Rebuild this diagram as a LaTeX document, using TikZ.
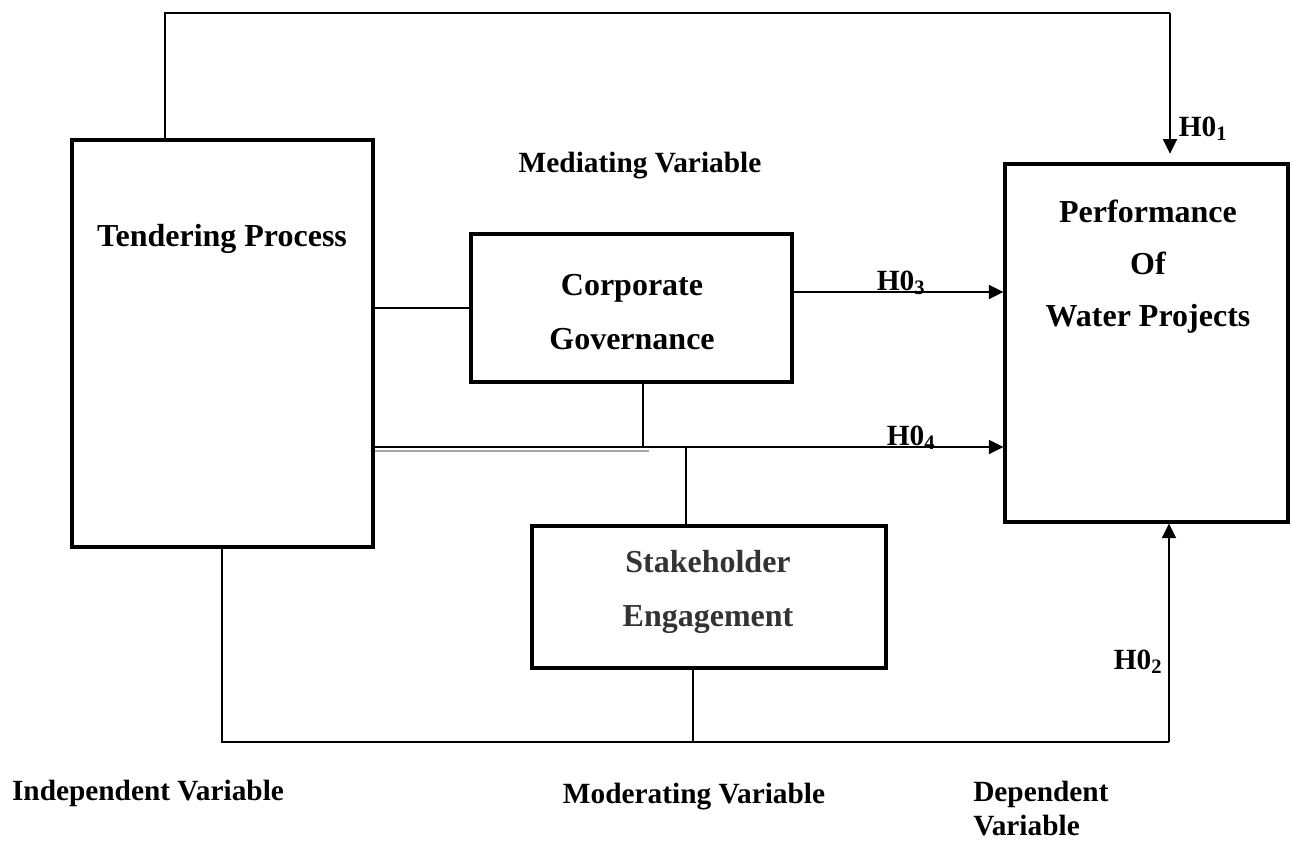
\documentclass[tikz,border=0pt]{standalone}
\usepackage{fontspec}
\setmainfont{Liberation Serif}
\usetikzlibrary{arrows.meta}

\begin{document}
\begin{tikzpicture}[x=0.75pt, y=-0.75pt, >={Triangle[length=11pt,width=10.5pt]},
    box/.style={draw, line width=2.3pt, inner sep=0pt},
    boxtext/.style={font=\fontsize{24}{41}\selectfont\bfseries, align=center, inner sep=0pt},
    lab/.style={font=\fontsize{22}{25}\selectfont\bfseries, inner sep=0pt},
    conn/.style={line width=1.1pt},
    arr/.style={line width=1.4pt, ->}]

    \useasboundingbox (0,0) rectangle (1293,840);

    % Boxes

    \node[box, minimum width=225.75pt, minimum height=305.25pt] (tender) at (222.5,343.5) {}; %
    \node[box, minimum width=240.75pt, minimum height=111pt]    (corp)   at (631.5,308)   {}; %
    \node[box, minimum width=265.5pt,  minimum height=106.5pt]  (stake)  at (709,597)     {}; %
    \node[box, minimum width=212.25pt, minimum height=268.5pt]  (perf)   at (1146.5,343)  {}; %

    % Box texts
    \node[boxtext] (tendertxt) at (222,239) {Tendering Process}; %
    \node[boxtext] (corptxt)   at (632,312) {Corporate\\Governance}; %
    \node[boxtext, text=black!80] (staketxt) at (708,592) {Stakeholder\\Engagement}; %
    \node[boxtext, font=\fontsize{24}{39}\selectfont\bfseries] (perftxt) at (1148,267) {Performance\\Of\\Water Projects}; %

    % Bends
    \coordinate (tl) at (165,13);
    \coordinate (tr) at (1170,13);
    \coordinate (bl) at (222,742);
    \coordinate (br) at (1169,742);
    \coordinate (sb) at (693,742);
    \coordinate (jn) at (643,447);
    \coordinate (jg) at (649,451);
    \coordinate (sj) at (686,447);

    % Connectors
    \draw[conn] (tender.north -| tl) -- (tl) -- (tr);
    \draw[arr, shorten >=6.5pt] (tr) -- (perf.north -| tr);
    \draw[conn] (corp.west -| tender.east) -- (corp.west);
    \draw[arr] ([yshift=12pt]corp.east) -- ([yshift=12pt]corp.east -| perf.west);
    \draw[conn] (corp.south -| jn) -- (jn);
    \draw[arr] (jn) -- (perf.west |- jn);
    \draw[conn] (tender.east |- jn) -- (jn);
    \draw[black!35, line width=0.9pt] (tender.east |- jg) -- (jg);
    \draw[conn] (sj) -- (stake.north -| sj);
    \draw[conn] (stake.south -| sb) -- (sb);
    \draw[conn] (tender.south -| bl) -- (bl) -- (br);
    \draw[arr] (br) -- (perf.south -| br);

    % Labels
    \node[lab] (h1) at (1203,129) {H0\textsubscript{1}}; %
    \node[lab] (h3) at (901,283)  {H0\textsubscript{3}}; %
    \node[lab] (h4) at (911,438)  {H0\textsubscript{4}}; %
    \node[lab] (h2) at (1138,662) {H0\textsubscript{2}}; %

    \node[lab] (medlab) at (640,166) {Mediating Variable}; %
    \node[lab] (indlab) at (148,793) {Independent Variable}; %
    \node[lab] (modlab) at (694,797) {Moderating Variable}; %
    \node[lab, anchor=south west, align=left] (deplab) at (973,836) {Dependent\\Variable}; %

\end{tikzpicture}
\end{document}
